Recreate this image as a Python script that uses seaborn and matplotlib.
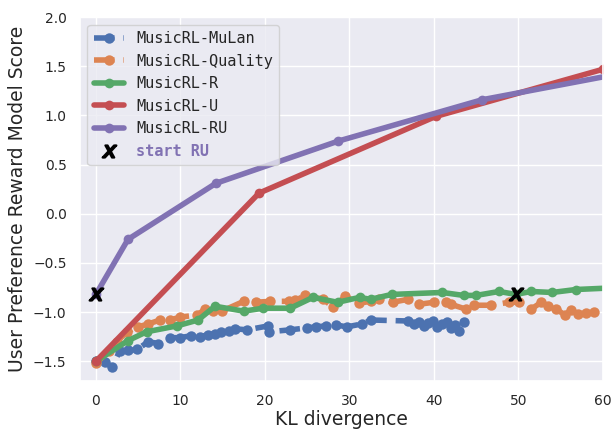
import numpy as np
import pandas as pd
import matplotlib
matplotlib.use("Agg")
import matplotlib.pyplot as plt
import seaborn as sns

# KL divergence / reward score
mulan_kl = [0, 1.1, 1.9, 2.8, 3.8, 4.9, 6.2, 7.4, 8.8, 10.0, 11.2, 12.3, 13.3,
            14.1, 14.8, 15.7, 16.5, 17.9, 20.4, 20.5, 23.0, 25.0, 26.0, 27.2,
            28.4, 29.7, 31.5, 32.5, 36.9, 37.6, 38.2, 38.8, 39.3, 39.9, 40.4,
            40.9, 41.5, 42.0, 42.5, 43.0, 43.5]
mulan_score = [-1.5, -1.51, -1.56, -1.40, -1.39, -1.38, -1.30, -1.32, -1.26,
               -1.26, -1.24, -1.25, -1.23, -1.22, -1.20, -1.19, -1.17, -1.18,
               -1.14, -1.20, -1.18, -1.16, -1.15, -1.14, -1.13, -1.15, -1.12,
               -1.08, -1.09, -1.12, -1.10, -1.14, -1.11, -1.09, -1.15, -1.12,
               -1.10, -1.16, -1.13, -1.19, -1.10]

quality_kl = [0, 1.5, 2.5, 3.7, 5.0, 6.2, 7.6, 8.8, 10.0, 12.0, 12.9, 13.8,
              14.9, 17.5, 18.9, 20.6, 22.8, 23.6, 24.8, 26.9, 28.1, 29.5, 31.1,
              32.5, 33.5, 35.1, 36.9, 38.2, 40.0, 41.4, 42.0, 43.8, 44.7, 46.7,
              48.9, 50.1, 51.5, 52.7, 53.5, 54.5, 55.5, 56.2, 57.0, 58.0, 59.0]
quality_score = [-1.52, -1.40, -1.30, -1.20, -1.15, -1.12, -1.08, -1.08, -1.05,
                 -1.03, -0.97, -0.99, -0.99, -0.89, -0.90, -0.89, -0.89, -0.88,
                 -0.83, -0.87, -0.95, -0.84, -0.91, -0.89, -0.87, -0.90, -0.87,
                 -0.92, -0.90, -0.90, -0.92, -0.97, -0.93, -0.93, -0.90, -0.90,
                 -0.97, -0.90, -0.94, -0.97, -1.03, -0.98, -1.02, -1.01, -1.00]

r_kl = [0, 3.8, 6.0, 9.6, 12.1, 14.1, 17.5, 19.8, 23.0, 25.7, 28.6, 31.2, 32.5,
        35.0, 41.0, 43.5, 45.0, 47.7, 49.7, 51.5, 54.0, 56.8, 62.0]
r_score = [-1.5, -1.29, -1.20, -1.14, -1.08, -0.94, -0.99, -0.96, -0.96, -0.85,
           -0.90, -0.85, -0.87, -0.82, -0.80, -0.83, -0.83, -0.79, -0.82, -0.79,
           -0.80, -0.77, -0.75]

u_kl = [0, 19.3, 40.2, 60.0]
u_score = [-1.5, 0.21, 0.99, 1.47]

ru_kl = [0, 3.8, 14.2, 28.7, 45.7, 66.0]
ru_score = [-0.82, -0.26, 0.31, 0.74, 1.16, 1.49]

start_kl = [0, 49.7]
start_score = [-0.82, -0.82]

sns.set_theme(style="darkgrid")
pal = sns.color_palette("deep")

fig, ax = plt.subplots(figsize=(6.14, 4.29), dpi=100)

series = [
    ("MusicRL-MuLan", mulan_kl, mulan_score, pal[0], "--", 7.5),
    ("MusicRL-Quality", quality_kl, quality_score, pal[1], "--", 7.5),
    ("MusicRL-R", r_kl, r_score, pal[2], "-", 7),
    ("MusicRL-U", u_kl, u_score, pal[3], "-", 7),
    ("MusicRL-RU", ru_kl, ru_score, pal[4], "-", 7),
]
for name, xs, ys, col, ls, ms in series:
    df = pd.DataFrame({"kl": xs, "score": ys})
    sns.lineplot(data=df, x="kl", y="score", ax=ax, color=col, linestyle=ls,
                 linewidth=4, marker="o", markersize=ms, markeredgewidth=0,
                 estimator=None, sort=False, label=name)

ax.plot(start_kl, start_score, linestyle="none", marker="$x$", color="black",
        markersize=10, markeredgewidth=1.5, label="start RU", zorder=5)

ax.set_xlim(-1.9, 60)
ax.set_ylim(-1.7, 2.0)
ax.set_xlabel("KL divergence", fontsize=13.5, labelpad=1)
ax.set_ylabel("User Preference Reward Model Score", fontsize=13.5)
ax.tick_params(labelsize=10)

leg = ax.legend(loc="upper left", prop={"family": "DejaVu Sans Mono", "size": 11})
for t in leg.get_texts():
    if t.get_text() == "start RU":
        t.set_color(pal[4])
        t.set_fontweight("bold")

fig.subplots_adjust(left=0.13, right=0.982, top=0.96, bottom=0.112)
fig.savefig("out.png", dpi=100)
